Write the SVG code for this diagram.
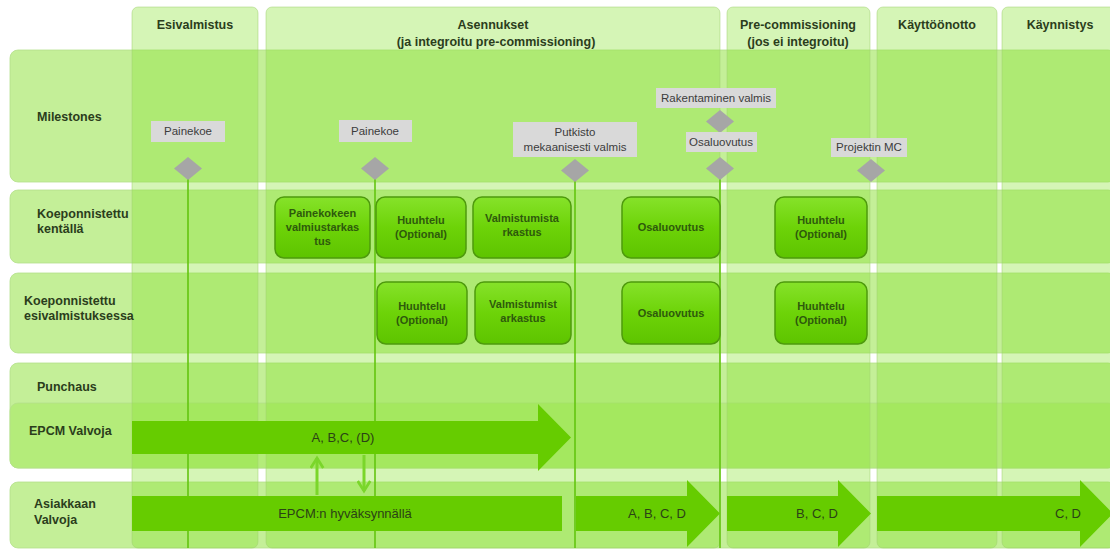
<svg xmlns="http://www.w3.org/2000/svg" width="1110" height="550" viewBox="0 0 1110 550">
<defs>
<linearGradient id="ng" x1="0" y1="0" x2="0" y2="1">
<stop offset="0" stop-color="#86e22a"/>
<stop offset="0.5" stop-color="#6dd308"/>
<stop offset="1" stop-color="#5ec400"/>
</linearGradient>
<marker id="chev" viewBox="0 0 12 12" refX="9" refY="6" markerWidth="5" markerHeight="5" orient="auto" markerUnits="strokeWidth">
<path d="M1,1 L9,6 L1,11" fill="none" stroke="#7ad62a" stroke-width="2.2"/>
</marker>
</defs>
<style>
.row{fill:#c4ef98;stroke:#b4e08a;stroke-width:0.8}
.col{fill:rgb(135,225,45);fill-opacity:0.35;stroke:#9fd070;stroke-opacity:0.5;stroke-width:1}
.rl{font-family:"Liberation Sans",Arial,sans-serif;font-size:12.5px;font-weight:bold;fill:#2b3d1c}
.hd{font-family:"Liberation Sans",Arial,sans-serif;font-size:12.5px;font-weight:bold;fill:#2b3d1c;text-anchor:middle}
.ml{fill:#d9d9d9}
.mt{font-family:"Liberation Sans",Arial,sans-serif;font-size:11.5px;fill:#3c3c3c;text-anchor:middle}
.dia{fill:#a6a6a6}
.nd{fill:url(#ng);stroke:#4e9a0c;stroke-width:1.5}
.nt{font-family:"Liberation Sans",Arial,sans-serif;font-size:11px;font-weight:bold;fill:#2e5a0c;text-anchor:middle}
.ba{fill:#66cc00}
.at{font-family:"Liberation Sans",Arial,sans-serif;font-size:13px;fill:#2b4216;text-anchor:middle}
.vl{stroke:#62c510;stroke-width:1.6;fill:none}
.sa{stroke:#7ad62a;stroke-width:3;fill:none}
</style>
<rect width="1110" height="550" fill="#ffffff"/>
<g id="rows">
<rect class="row" x="10" y="50" width="1106" height="132" rx="8"/>
<rect class="row" x="10" y="190" width="1106" height="73" rx="8"/>
<rect class="row" x="10" y="273" width="1106" height="80" rx="8"/>
<rect class="row" x="10" y="363" width="1106" height="105" rx="8"/>
<rect x="10" y="403" width="1106" height="65" rx="8" fill="#b4ec7a" stroke="#b4e08a" stroke-width="0.8"/>
<rect class="row" x="10" y="482" width="1106" height="66" rx="8"/>
</g>
<g id="columns">
<rect class="col" x="132" y="7" width="126" height="541" rx="6"/>
<rect class="col" x="266" y="7" width="454" height="541" rx="6"/>
<rect class="col" x="727" y="7" width="143" height="541" rx="6"/>
<rect class="col" x="877" y="7" width="120" height="541" rx="6"/>
<rect class="col" x="1002" y="7" width="120" height="541" rx="6"/>
</g>
<g id="headers">
<text class="hd" x="195" y="29">Esivalmistus</text>
<text class="hd" x="493" y="29">Asennukset</text>
<text class="hd" x="496" y="46">(ja integroitu pre-commissioning)</text>
<text class="hd" x="798" y="29">Pre-commissioning</text>
<text class="hd" x="798" y="46">(jos ei integroitu)</text>
<text class="hd" x="937" y="29">Käyttöönotto</text>
<text class="hd" x="1060" y="29">Käynnistys</text>
</g>
<g id="row-labels">
<text class="rl" x="37" y="121">Milestones</text>
<text class="rl" x="37" y="218">Koeponnistettu</text>
<text class="rl" x="37" y="233">kentällä</text>
<text class="rl" x="24" y="305">Koeponnistettu</text>
<text class="rl" x="24" y="320">esivalmistuksessa</text>
<text class="rl" x="37" y="391">Punchaus</text>
<text class="rl" x="29" y="435">EPCM Valvoja</text>
<text class="rl" x="34" y="508">Asiakkaan</text>
<text class="rl" x="34" y="524">Valvoja</text>
</g>
<g id="connectors">
<line class="vl" x1="188" y1="178" x2="188" y2="548"/>
<line class="vl" x1="375" y1="178" x2="375" y2="548"/>
<line class="vl" x1="575" y1="180" x2="575" y2="548"/>
<line class="vl" x1="720" y1="178" x2="720" y2="548"/>
<line class="sa" x1="317" y1="495" x2="317" y2="458" marker-end="url(#chev)"/>
<line class="sa" x1="364" y1="455" x2="364" y2="491" marker-end="url(#chev)"/>
</g>
<g id="arrow-epcm">
<polygon class="ba" points="132,421 538,421 538,404 571,437.5 538,471 538,454 132,454"/>
<text class="at" x="343" y="442">A, B,C, (D)</text>
</g>
<g id="bar-asiakkaan">
<rect class="ba" x="132" y="496" width="430" height="35"/>
<text class="at" x="345" y="518">EPCM:n hyväksynnällä</text>
</g>
<g id="arrow-abcd">
<polygon class="ba" points="576,496 687,496 687,480 720,513.5 687,547 687,531 576,531"/>
<text class="at" x="657" y="518">A, B, C, D</text>
</g>
<g id="arrow-bcd">
<polygon class="ba" points="727,496 838,496 838,480 871,513.5 838,547 838,531 727,531"/>
<text class="at" x="817" y="518">B, C, D</text>
</g>
<g id="arrow-cd">
<polygon class="ba" points="877,496 1080,496 1080,480 1113,513.5 1080,547 1080,531 877,531"/>
<text class="at" x="1068" y="518">C, D</text>
</g>
<g id="ms-painekoe-1">
<rect class="ml" x="151" y="121" width="74" height="21"/>
<text class="mt" x="188" y="135">Painekoe</text>
<polygon class="dia" points="188,157 202,168.5 188,180 174,168.5"/>
</g>
<g id="ms-painekoe-2">
<rect class="ml" x="339" y="120" width="73" height="22"/>
<text class="mt" x="375" y="135">Painekoe</text>
<polygon class="dia" points="375,157 389,168.5 375,180 361,168.5"/>
</g>
<g id="ms-putkisto">
<rect class="ml" x="513" y="122" width="124" height="35"/>
<text class="mt" x="575" y="136">Putkisto</text>
<text class="mt" x="575" y="151">mekaanisesti valmis</text>
<polygon class="dia" points="575,159 589,170.5 575,182 561,170.5"/>
</g>
<g id="ms-rakentaminen">
<rect class="ml" x="656" y="88" width="120" height="20"/>
<text class="mt" x="716" y="102">Rakentaminen valmis</text>
<polygon class="dia" points="720,110 734,121.5 720,133 706,121.5"/>
</g>
<g id="ms-osaluovutus">
<rect class="ml" x="686" y="132" width="71" height="20"/>
<text class="mt" x="721" y="146">Osaluovutus</text>
<polygon class="dia" points="720,157 734,168.5 720,180 706,168.5"/>
</g>
<g id="ms-projektin-mc">
<rect class="ml" x="831" y="138" width="76" height="19"/>
<text class="mt" x="869" y="151">Projektin MC</text>
<polygon class="dia" points="871,159 885,170.5 871,182 857,170.5"/>
</g>
<g id="n-painekokeen">
<rect class="nd" x="275" y="197" width="95" height="61" rx="9"/>
<text class="nt" x="322.5" y="217">Painekokeen</text>
<text class="nt" x="322.5" y="231">valmiustarkas</text>
<text class="nt" x="322.5" y="245">tus</text>
</g>
<g id="n-huuhtelu-1">
<rect class="nd" x="376" y="197" width="90" height="61" rx="9"/>
<text class="nt" x="421" y="224">Huuhtelu</text>
<text class="nt" x="421" y="238">(Optional)</text>
</g>
<g id="n-valmistumista-1">
<rect class="nd" x="473" y="197" width="98" height="61" rx="9"/>
<text class="nt" x="522" y="222">Valmistumista</text>
<text class="nt" x="522" y="236">rkastus</text>
</g>
<g id="n-osaluovutus-1">
<rect class="nd" x="622" y="197" width="98" height="61" rx="9"/>
<text class="nt" x="671" y="231">Osaluovutus</text>
</g>
<g id="n-huuhtelu-2">
<rect class="nd" x="775" y="197" width="92" height="61" rx="9"/>
<text class="nt" x="821" y="224">Huuhtelu</text>
<text class="nt" x="821" y="238">(Optional)</text>
</g>
<g id="n-huuhtelu-3">
<rect class="nd" x="377" y="282" width="90" height="62" rx="9"/>
<text class="nt" x="422" y="310">Huuhtelu</text>
<text class="nt" x="422" y="324">(Optional)</text>
</g>
<g id="n-valmistumista-2">
<rect class="nd" x="475" y="282" width="96" height="62" rx="9"/>
<text class="nt" x="523" y="308">Valmistumist</text>
<text class="nt" x="523" y="322">arkastus</text>
</g>
<g id="n-osaluovutus-2">
<rect class="nd" x="622" y="282" width="98" height="62" rx="9"/>
<text class="nt" x="671" y="317">Osaluovutus</text>
</g>
<g id="n-huuhtelu-4">
<rect class="nd" x="775" y="282" width="92" height="62" rx="9"/>
<text class="nt" x="821" y="310">Huuhtelu</text>
<text class="nt" x="821" y="324">(Optional)</text>
</g>
</svg>
